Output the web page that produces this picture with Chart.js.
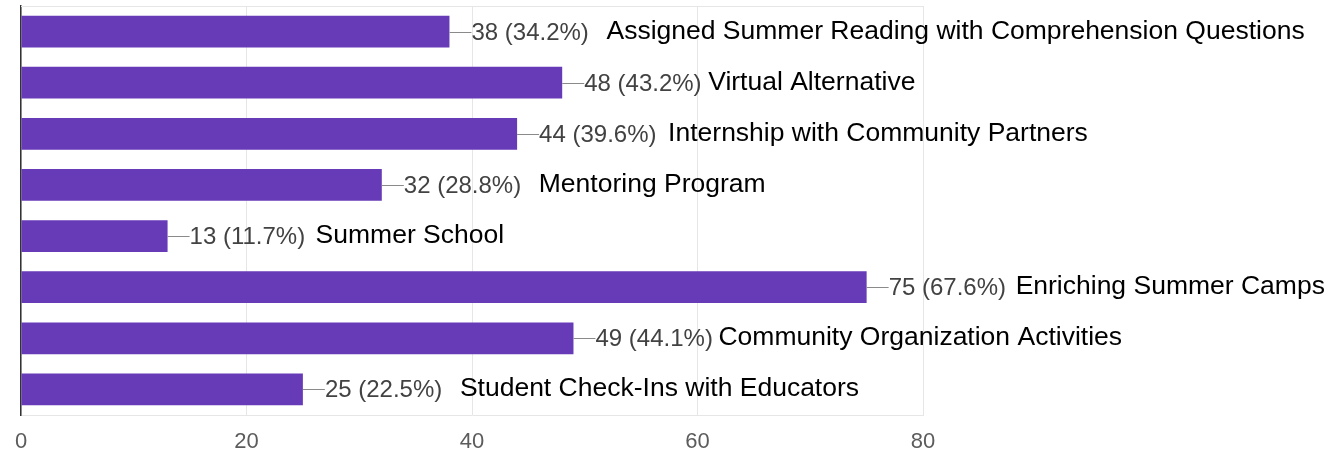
<!DOCTYPE html>
<html>
<head>
<meta charset="utf-8">
<script src="https://cdn.jsdelivr.net/npm/chart.js@4/dist/chart.umd.min.js"></script>
<style>
  body { margin: 0; background: #fff; }
  #wrap { width: 1332px; height: 452px; }
</style>
</head>
<body>
<div id="wrap"><canvas id="chart" width="1332" height="452"></canvas></div>
<script>
// Data
const categories = [
    'Assigned Summer Reading with Comprehension Questions',
    'Virtual Alternative',
    'Internship with Community Partners',
    'Mentoring Program',
    'Summer School',
    'Enriching Summer Camps',
    'Community Organization Activities',
    'Student Check-Ins with Educators'
];
const counts = [38, 48, 44, 32, 13, 75, 49, 25];
const percents = ['34.2%', '43.2%', '39.6%', '28.8%', '11.7%', '67.6%', '44.1%', '22.5%'];
const xTicks = [0, 20, 40, 60, 80];

// where each category name sits, in px to the right of its bar end
const nameOffset = [157, 146, 151, 157, 148, 149, 145, 157];

const barLabels = {
    id: 'barLabels',
    afterDatasetsDraw(chart) {
        const ctx = chart.ctx;
        const area = chart.chartArea;
        const bars = chart.getDatasetMeta(0).data;

        // faint top border of the plot
        ctx.save();
        ctx.strokeStyle = '#e6e6e6';
        ctx.lineWidth = 1;
        ctx.beginPath();
        ctx.moveTo(area.left, area.top + 0.5);
        ctx.lineTo(area.right, area.top + 0.5);
        ctx.stroke();

        bars.forEach((bar, i) => {
            const y = Math.round(bar.y);
            // leader line
            ctx.strokeStyle = '#8a8a8a';
            ctx.beginPath();
            ctx.moveTo(bar.x, y + 0.5);
            ctx.lineTo(bar.x + 22, y + 0.5);
            ctx.stroke();

            ctx.textBaseline = 'middle';
            ctx.textAlign = 'left';
            ctx.fillStyle = '#424242';
            ctx.font = '24px "Liberation Sans", Arial, sans-serif';
            ctx.fillText(`${counts[i]} (${percents[i]})`, bar.x + 22, y + 1);

            ctx.fillStyle = '#000000';
            ctx.font = '26.5px "Liberation Sans", Arial, sans-serif';
            ctx.fillText(categories[i], bar.x + nameOffset[i], y);
        });
        ctx.restore();
    }
};

new Chart(document.getElementById('chart'), {
    type: 'bar',
    data: {
        labels: categories,
        datasets: [{
            data: counts,
            backgroundColor: '#673ab7',
            borderWidth: 0,
            barPercentage: 0.62,
            categoryPercentage: 1
        }]
    },
    options: {
        indexAxis: 'y',
        responsive: false,
        animation: false,
        layout: { padding: { top: 6, right: 409, left: 0, bottom: 0 } },
        plugins: {
            legend: { display: false },
            tooltip: { enabled: false }
        },
        scales: {
            x: {
                min: xTicks[0],
                max: xTicks[xTicks.length - 1],
                afterBuildTicks: (scale) => {
                    scale.ticks = xTicks.map(v => ({ value: v }));
                },
                afterFit: (scale) => { scale.height = 37; },
                grid: { color: '#e6e6e6', drawTicks: false },
                border: { display: true, color: '#e6e6e6' },
                ticks: {
                    padding: 14,
                    color: '#5c5c5c',
                    font: { family: '"Liberation Sans", Arial, sans-serif', size: 22 }
                }
            },
            y: {
                afterFit: (scale) => { scale.width = 21; },
                grid: { display: false, drawTicks: false },
                border: { display: true, color: '#333333', width: 1.5 },
                ticks: { display: false }
            }
        }
    },
    plugins: [barLabels]
});
</script>
</body>
</html>
